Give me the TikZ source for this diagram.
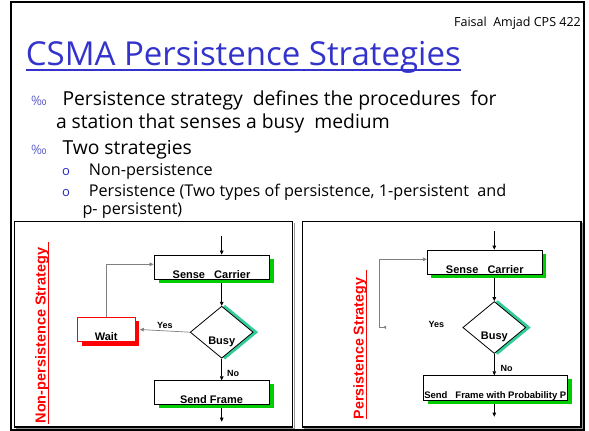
\documentclass[tikz,border=0pt]{standalone}
\usepackage{fontspec}
\setmainfont{Open Sans}
\newfontfamily\chartfont{Liberation Sans}
\usetikzlibrary{arrows.meta,shapes.geometric,shadows,backgrounds}

\definecolor{titleblue}{RGB}{51,51,204}
\definecolor{markblue}{RGB}{95,95,200}
\definecolor{subblue}{RGB}{40,40,190}
\definecolor{boxgreen}{RGB}{0,204,0}
\definecolor{diamteal}{RGB}{51,204,153}
\definecolor{loopgray}{RGB}{128,128,128}
\definecolor{rimgray}{RGB}{150,150,150}

\tikzset{
  slidetext/.style={anchor=base west, inner sep=0pt},
  bodyline/.style={slidetext, font=\fontsize{19.3}{22}\selectfont},
  subitem/.style={slidetext, font=\fontsize{16.2}{19}\selectfont},
  mainmark/.style={slidetext, text=markblue, font=\fontsize{13}{14}\selectfont},
  submark/.style={anchor=base, inner sep=0pt, text=subblue, font=\fontsize{13}{14}\selectfont},
  chartnode/.style={fill=white, line width=0.8pt, inner sep=0pt, text depth=0pt,
    font=\chartfont\bfseries\fontsize{11}{12}\selectfont},
  procbox/.style={chartnode, draw=black, rectangle, text height=22pt},
  gshadow/.style={drop shadow={shadow xshift=#1, shadow yshift=-3.7pt, fill=boxgreen, opacity=1}},
  waitbox/.style={chartnode, draw=red, rectangle, text height=22pt,
    minimum width=57.7pt, minimum height=24.4pt,
    drop shadow={shadow xshift=4.3pt, shadow yshift=-4pt, fill=red, opacity=1}},
  decision/.style={chartnode, draw=black, diamond, text height=24pt,
    minimum width=63pt, minimum height=52pt,
    drop shadow={shadow xshift=3.5pt, shadow yshift=0pt, fill=diamteal,
      draw=diamteal, line width=2pt, opacity=1}},
  flow/.style={draw=black, line width=0.7pt, -{Triangle[length=4pt,width=3.6pt]}},
  loopback/.style={draw=loopgray, line width=0.7pt, -{Triangle[length=4pt,width=3.6pt]}},
  branch/.style={font=\chartfont\bfseries\fontsize{9}{10}\selectfont, inner sep=0pt},
  sidetitle/.style={rotate=90, text=red, inner sep=0pt,
    font=\chartfont\bfseries\fontsize{14.5}{16}\selectfont},
  panelrim/.style={draw=rimgray, line width=1.2pt},
  paneledge/.style={draw=black, line width=1.2pt},
}

\begin{document}
\begin{tikzpicture}[x=1pt, y=-1pt]
\useasboundingbox (0,0) rectangle (589,431);

% slide frame and the two chart panels
\draw[black, line width=2pt] (11.3,1.8) rectangle (584,430);
\draw[panelrim] (15.8,428.4) -- (294.2,428.4) -- (294.2,223.2);
\draw[paneledge] (14.3,221.7) rectangle (292.7,427);
\draw[panelrim] (303.8,428.4) -- (582.4,428.4) -- (582.4,223.2);
\draw[paneledge] (302.3,221.7) rectangle (581,427);

% header
\node[anchor=base east, inner sep=0pt, font=\fontsize{12.5}{14}\selectfont] (author) at (581,27) {Faisal\ \ Amjad CPS 422};
\node[anchor=base west, inner sep=0pt, text=titleblue, font=\fontsize{33}{36}\selectfont] (title) at (25.7,65) {CSMA Persistence Strategies};
\draw[titleblue, line width=2.4pt] ([yshift=-5pt]title.base west) -- ([yshift=-5pt]title.base east);

% bullet list
\node[mainmark] (m1) at (31,105) {‰};
\node[bodyline] (l1) at (62.3,105) {Persistence strategy\ \ defines the procedures\ \ for};
\node[bodyline] (l2) at (55.8,128) {a station that senses a busy\ \ medium};
\node[mainmark] (m2) at (31,154) {‰};
\node[bodyline] (l3) at (62.3,154) {Two strategies};
\node[submark] (s1) at (66,175) {o};
\node[subitem] (l4) at (88.7,175) {Non-persistence};
\node[submark] (s2) at (66,196) {o};
\node[subitem] (l5) at (88.7,196) {Persistence (Two types of persistence, 1-persistent\ \ and};
\node[subitem] (l6) at (82.3,214) {p- persistent)};

% non-persistence flow chart
\node[sidetitle] (stratL) at (42,335.5) {Non-persistence Strategy};
\draw[red, line width=1.3pt] ([xshift=2.5pt]stratL.base west) -- ([xshift=2.5pt,yshift=5pt]stratL.base east);

\node[procbox, minimum width=115pt, minimum height=24pt, gshadow=4.7pt] (senseL) at (211.5,267) {Sense\ \ \ Carrier};
\node[decision] (busyL) at (221.7,332.2) {Busy};
\node[waitbox] (waitL) at (106.2,329.5) {Wait};
\node[procbox, minimum width=115pt, minimum height=23.6pt, gshadow=4.7pt] (sendL) at (211.5,392.5) {Send Frame};
\coordinate (inL) at (221.7,235.7);
\coordinate (outL) at (221.7,421.7);
\coordinate (loopL) at ([yshift=2.7pt]senseL.west);
\coordinate (yesL) at ([xshift=4.3pt]waitL.east);

% persistence flow chart
\node[sidetitle, font=\chartfont\bfseries\fontsize{14.25}{16}\selectfont] (stratR) at (360,348.5) {Persistence Strategy};
\draw[red, line width=1.3pt] ([xshift=2.5pt]stratR.base west) -- ([xshift=2.5pt,yshift=8pt]stratR.base east);

\node[procbox, minimum width=115pt, minimum height=24.3pt, gshadow=3.4pt] (senseR) at (484.8,262.2) {Sense\ \ \ Carrier};
\node[decision] (busyR) at (494.3,327.5) {Busy};
\node[procbox, minimum width=144pt, minimum height=24.3pt, gshadow=4.4pt,
  font=\chartfont\bfseries\fontsize{9.5}{11}\selectfont] (sendR) at (495.3,387.8) {Send\ \ \ Frame with Probability P};
\node[branch] (yesR) at (436.3,324) {Yes};
\coordinate (inR) at (494.3,231);
\coordinate (outR) at (494.3,416.7);
\coordinate (loopR) at ([yshift=2.9pt]senseR.west);
\coordinate (cornerR) at (379,327.3);
\coordinate (stubR) at (386,327.3);

\begin{pgfonlayer}{background}
  \draw[flow] (inL) -- (inL |- senseL.north);
  \draw[flow] (busyL.north |- senseL.south) -- (busyL.north);
  \draw[flow] (busyL.south) -- node[branch, pos=0.7, right=5pt] (noL) {No} (busyL.south |- sendL.north);
  \draw[flow] (busyL.south |- sendL.south) -- (outL);
  \draw[loopback] (busyL.west) -- node[branch, above=1.5pt] (yesLlbl) {Yes} (yesL);
  \draw[loopback] (waitL.north) |- (loopL);

  \draw[flow] (inR) -- (inR |- senseR.north);
  \draw[flow] (busyR.north |- senseR.south) -- (busyR.north);
  \draw[flow] (busyR.south) -- node[branch, pos=0.7, right=6pt] (noR) {No} (busyR.south |- sendR.north);
  \draw[flow] (busyR.south |- sendR.south) -- (outR);
  \draw[loopback, {Triangle[length=3pt,width=3pt,reversed]}-{Triangle[length=4pt,width=3.6pt]}] (stubR) -- (cornerR) |- (loopR);
\end{pgfonlayer}
\end{tikzpicture}
\end{document}
